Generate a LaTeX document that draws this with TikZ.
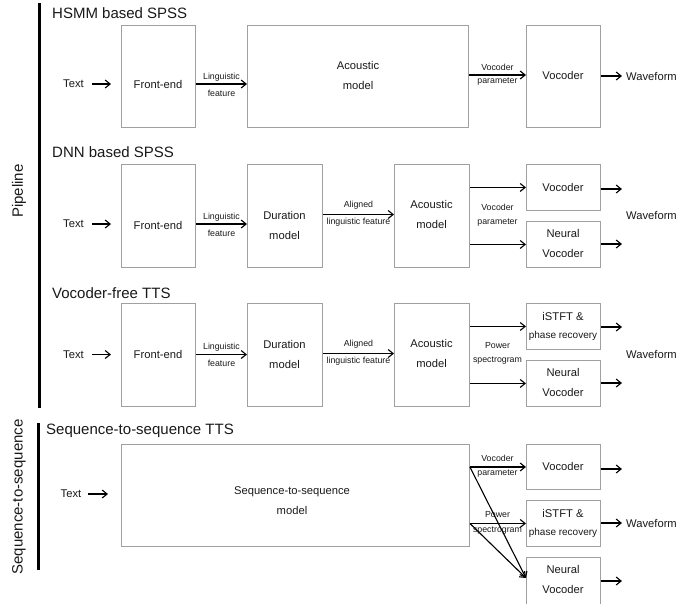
\documentclass[tikz,border=0pt]{standalone}
\usepackage{fontspec}
\setmainfont{Liberation Sans}
\usetikzlibrary{arrows.meta}
\definecolor{boxgray}{RGB}{160,160,160}
\definecolor{ink}{RGB}{25,25,25}
\begin{document}
\begin{tikzpicture}[x=1pt,y=-1pt,
  box/.style={draw=boxgray, line width=0.9pt, inner sep=0pt, anchor=north west},
  txt/.style={inner sep=0pt, align=center, text=ink, font=\fontsize{11.2}{20}\selectfont},
  lab/.style={inner sep=0pt, text=ink, font=\fontsize{8.8}{10}\selectfont},
  ttl/.style={inner sep=0pt, anchor=west, text=ink, font=\fontsize{15}{18}\selectfont},
  arr/.style={line width=1.1pt, -{Straight Barb[length=5pt,width=8pt,line width=1.1pt]}},
  bar/.style={line width=3pt, black}
]
\useasboundingbox (0,0) rectangle (694,603);
\clip (0,0) rectangle (694,603);

% left bars and group labels
\coordinate (b1a) at (39,3);
\coordinate (b1b) at (39,408);
\coordinate (b2a) at (38.5,423);
\coordinate (b2b) at (38.5,570);
\draw[bar] (b1a) -- (b1b);
\draw[bar] (b2a) -- (b2b);
\node[ttl, anchor=center, rotate=90] (gpipe) at (19,191) {Pipeline};
\node[ttl, anchor=center, rotate=90] (gseq) at (19,497) {Sequence-to-sequence};

% ---------------- HSMM based SPSS ----------------
\node[ttl] (h1) at (52,13) {HSMM based SPSS};
\node[box, minimum width=74pt, minimum height=102pt] (fe1) at (121,25) {};
\node[box, minimum width=221pt, minimum height=102pt] (am1) at (247,25) {};
\node[box, minimum width=74pt, minimum height=102pt] (vo1) at (526,25) {};
\node[txt] (t1) at (73.5,84) {Text};
\node[txt] (fe1t) at (158,84) {Front-end};
\node[txt] (am1t) at (358,75) {Acoustic\\model};
\node[txt] (vo1t) at (563,75) {Vocoder};
\node[txt, anchor=west] (wf1) at (626,76) {Waveform};
\draw[arr, shorten <=8pt, shorten >=10pt] (t1.east) -- (fe1.west |- t1.east);
\draw[arr] (fe1.east |- t1.east) -- (am1.west |- t1.east)
  node[lab, pos=0.5, yshift=7pt] (l1a) {Linguistic}
  node[lab, pos=0.5, yshift=-9pt] (l1b) {feature};
\draw[arr] (am1.east |- vo1t) -- (vo1.west |- vo1t)
  node[lab, pos=0.5, yshift=8pt] (l1c) {Vocoder}
  node[lab, pos=0.5, yshift=-7pt] (l1d) {parameter};
\draw[arr, shorten >=4pt] (vo1.east |- wf1.west) -- (wf1.west);

% ---------------- DNN based SPSS ----------------
\node[ttl] (h2) at (52,152) {DNN based SPSS};
\node[box, minimum width=74pt, minimum height=103pt] (fe2) at (121,164) {};
\node[box, minimum width=75pt, minimum height=103pt] (du2) at (247,164) {};
\node[box, minimum width=75pt, minimum height=103pt] (am2) at (394,164) {};
\node[box, minimum width=74pt, minimum height=46pt] (vo2) at (526,164) {};
\node[box, minimum width=74pt, minimum height=46pt] (nv2) at (526,221) {};
\node[txt] (t2) at (73.5,224) {Text};
\node[txt] (fe2t) at (158,225) {Front-end};
\node[txt] (du2t) at (284.5,225) {Duration\\model};
\node[txt] (am2t) at (431.5,214.5) {Acoustic\\model};
\node[txt] (vo2t) at (563,187) {Vocoder};
\node[txt] (nv2t) at (563,243.5) {Neural\\Vocoder};
\node[txt, anchor=west] (wf2) at (626,215) {Waveform};
\draw[arr, shorten <=8pt, shorten >=10pt] (t2.east) -- (fe2.west |- t2.east);
\draw[arr] (fe2.east |- t2.east) -- (du2.west |- t2.east)
  node[lab, pos=0.5, yshift=7pt] (l2a) {Linguistic}
  node[lab, pos=0.5, yshift=-9pt] (l2b) {feature};
\draw[arr] (du2.east |- am2t) -- (am2.west |- am2t)
  node[lab, pos=0.5, yshift=9pt] (l2c) {Aligned}
  node[lab, pos=0.5, yshift=-8pt] (l2d) {linguistic feature};
\draw[arr] (am2.east |- vo2) -- (vo2.west);
\draw[arr] (am2.east |- nv2) -- (nv2.west);
\node[lab] (l2e) at (497.5,207) {Vocoder};
\node[lab] (l2f) at (497.5,223) {parameter};
\coordinate (o2a) at (622,189);
\coordinate (o2b) at (622,244);
\draw[arr] (vo2.east |- o2a) -- (o2a);
\draw[arr] (nv2.east |- o2b) -- (o2b);

% ---------------- Vocoder-free TTS ----------------
\node[ttl] (h3) at (52,293) {Vocoder-free TTS};
\node[box, minimum width=74pt, minimum height=103pt] (fe3) at (121,303) {};
\node[box, minimum width=75pt, minimum height=103pt] (du3) at (247,303) {};
\node[box, minimum width=75pt, minimum height=103pt] (am3) at (394,303) {};
\node[box, minimum width=74pt, minimum height=46pt] (is3) at (526,303) {};
\node[box, minimum width=74pt, minimum height=46pt] (nv3) at (526,360) {};
\node[txt] (t3) at (73.5,354.5) {Text};
\node[txt] (fe3t) at (158,354.5) {Front-end};
\node[txt] (du3t) at (284.5,354.5) {Duration\\model};
\node[txt] (am3t) at (431.5,353.5) {Acoustic\\model};
\node[txt] (is3a) at (563,316) {iSTFT \&};
\node[lab, font=\fontsize{10}{12}\selectfont] (is3b) at (563,336) {phase recovery};
\node[txt] (nv3t) at (563,382.5) {Neural\\Vocoder};
\node[txt, anchor=west] (wf3) at (626,354) {Waveform};
\draw[arr, shorten <=8pt, shorten >=10pt] (t3.east) -- (fe3.west |- t3.east);
\draw[arr] (fe3.east |- t3.east) -- (du3.west |- t3.east)
  node[lab, pos=0.5, yshift=7pt] (l3a) {Linguistic}
  node[lab, pos=0.5, yshift=-9pt] (l3b) {feature};
\draw[arr] (du3.east |- am3t) -- (am3.west |- am3t)
  node[lab, pos=0.5, yshift=9pt] (l3c) {Aligned}
  node[lab, pos=0.5, yshift=-8pt] (l3d) {linguistic feature};
\draw[arr] (am3.east |- is3) -- (is3.west);
\draw[arr] (am3.east |- nv3) -- (nv3.west);
\node[lab] (l3e) at (497.5,346) {Power};
\node[lab] (l3f) at (497.5,361) {spectrogram};
\coordinate (o3a) at (622,327);
\coordinate (o3b) at (622,383);
\draw[arr] (is3.east |- o3a) -- (o3a);
\draw[arr] (nv3.east |- o3b) -- (o3b);

% ---------------- Sequence-to-sequence TTS ----------------
\node[ttl] (h4) at (46,431) {Sequence-to-sequence TTS};
\node[box, minimum width=348pt, minimum height=102pt] (s2s) at (121,444) {};
\node[box, minimum width=74pt, minimum height=45pt] (vo4) at (526,444) {};
\node[box, minimum width=74pt, minimum height=46pt] (is4) at (526,500) {};
\node[box, minimum width=74pt, minimum height=60pt] (nv4) at (526,557) {};
\node[txt] (t4) at (71,494) {Text};
\node[txt] (s2st) at (292,501) {Sequence-to-sequence\\model};
\node[txt] (vo4t) at (563,466.5) {Vocoder};
\node[txt] (is4a) at (563,513) {iSTFT \&};
\node[lab, font=\fontsize{10}{12}\selectfont] (is4b) at (563,532.5) {phase recovery};
\node[txt] (nv4t) at (563,579) {Neural\\Vocoder};
\node[txt, anchor=west] (wf4) at (626,523) {Waveform};
\draw[arr, shorten <=7pt, shorten >=13pt] (t4.east) -- (s2s.west |- t4.east);
\coordinate (nvin) at (526,578);
\node[lab] (l4a) at (497.5,458) {Vocoder};
\node[lab] (l4b) at (497.5,474) {parameter};
\node[lab] (l4c) at (497.5,515) {Power};
\node[lab] (l4d) at (497.5,531) {spectrogram};
\draw[arr] (s2s.east |- vo4) -- (vo4.west);
\draw[arr] (s2s.east |- is4) -- (is4.west);
\draw[arr] (s2s.east |- vo4) -- (nvin);
\draw[arr] (s2s.east |- is4) -- (nvin);
\coordinate (o4a) at (622,469);
\coordinate (o4c) at (622,581);
\draw[arr] (vo4.east |- o4a) -- (o4a);
\draw[arr, shorten >=4pt] (is4.east |- wf4.west) -- (wf4.west);
\draw[arr] (nv4.east |- o4c) -- (o4c);
\end{tikzpicture}
\end{document}
